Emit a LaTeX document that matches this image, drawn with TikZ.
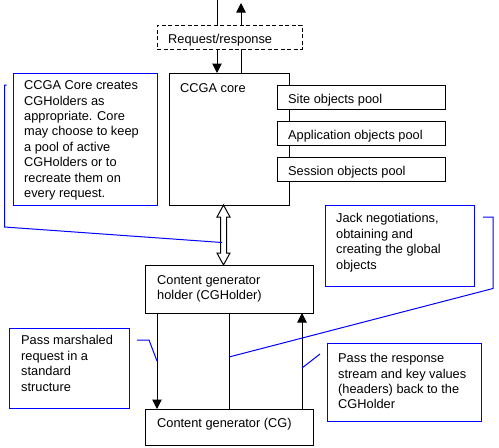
\documentclass[tikz,border=0pt]{standalone}
\usepackage{fontspec}
\setmainfont{Liberation Sans}
\usetikzlibrary{arrows.meta,calc}
\begin{document}
\begin{tikzpicture}[x=1pt,y=-1pt,
  box/.style={draw=black,line width=1pt,fill=white,anchor=north west,inner sep=0pt,outer sep=0pt},
  notebox/.style={draw=blue,line width=1pt,fill=white,anchor=north west,inner sep=0pt,outer sep=0pt},
  txt/.style={anchor=north west,inner sep=0pt,align=left,font=\fontsize{12.8}{15.4}\selectfont},
  conn/.style={line width=1pt,draw=black},
  call/.style={draw=blue,line width=1pt},
  tipend/.style={-{Triangle[width=9.5pt,length=9.5pt]}}
]
\useasboundingbox (0,0) rectangle (499,448);

% boxes
\node[box,dash pattern=on 4pt off 2.5pt,minimum width=145pt,minimum height=24pt] (req) at (157,25) {};
\node[box,minimum width=120pt,minimum height=132pt] (core) at (169,73) {};
\node[box,minimum width=168pt,minimum height=24pt] (site) at (277,85) {};
\node[box,minimum width=168pt,minimum height=24pt] (app) at (277,121) {};
\node[box,minimum width=168pt,minimum height=24pt] (sess) at (277,157) {};
\node[notebox,minimum width=144pt,minimum height=132pt] (note1) at (13,73) {};
\node[box,minimum width=168pt,minimum height=48pt] (holder) at (145,265) {};
\node[box,minimum width=168pt,minimum height=36pt] (cg) at (145,409) {};
\node[notebox,minimum width=149pt,minimum height=81pt] (jack) at (325,205) {};
\node[notebox,minimum width=120pt,minimum height=80pt] (marsh) at (9,328) {};
\node[notebox,minimum width=154pt,minimum height=78pt] (resp) at (327,343) {};

% texts
\node[txt] (reqt) at (168,34.5) {Request/response};
\node[txt] (coret) at (180,83.5) {CCGA core};
\node[txt] (sitet) at (288,94) {Site objects pool};
\node[txt] (appt) at (288,130) {Application objects pool};
\node[txt] (sesst) at (288,166) {Session objects pool};
\node[txt] (note1t) at (24,80.5) {CCGA Core creates\\CGHolders as\\appropriate. Core\\may choose to keep\\a pool of active\\CGHolders or to\\recreate them on\\every request.};
\node[txt] (holdert) at (157,275.3) {Content generator\\holder (CGHolder)};
\node[txt] (cgt) at (157,418.5) {Content generator (CG)};
\node[txt] (jackt) at (336,213.5) {Jack negotiations,\\obtaining and\\creating the global\\objects};
\node[txt] (marsht) at (21,335.5) {Pass marshaled\\request in a\\standard\\structure};
\node[txt] (respt) at (338,353.3) {Pass the response\\stream and key values\\(headers) back to the\\CGHolder};

% request / response connectors
\coordinate (intop) at (217,0);
\coordinate (outtop) at (241,3);
\draw[conn] (intop) -- (intop |- req.north);
\draw[conn,tipend] (outtop |- req.north) -- (outtop);
\draw[conn,tipend] (intop |- req.south) -- (intop |- core.north);
\draw[conn] (outtop |- core.north) -- (outtop |- req.south);

% hollow double arrow core <-> holder
\coordinate (da) at ($(core.south)+(-5.5,0)$);
\coordinate (db) at ($(holder.north)+(-5.5,0)$);
\draw[line width=1pt,fill=white] (da) -- ++(6.5,12) -- ++(-3.5,0) -- ($(db)+(3,-12)$) -- ++(3.5,0) -- (db)
  -- ++(-6.5,-12) -- ++(3.5,0) -- ($(da)+(-3,12)$) -- ++(-3.5,0) -- cycle;

% holder <-> cg
\coordinate (lx) at (157,0);
\coordinate (rx) at (302,0);
\draw[conn,tipend] (holder.south -| lx) -- (cg.north -| lx);
\draw[conn] (holder.south) -- (cg.north);
\draw[conn,tipend] (cg.north -| rx) -- (holder.south -| rx);

% callout lines
\coordinate (c1a) at (6.5,85);
\coordinate (c1b) at (4.5,85);
\coordinate (c1c) at (4.5,227);
\coordinate (c1d) at (222,242.5);
\draw[call] (c1a) -- (c1b) -- (c1c) -- (c1d);
\coordinate (c2a) at (483,217);
\coordinate (c2b) at (493,217);
\coordinate (c2c) at (493,288.5);
\coordinate (c2d) at (229,357);
\draw[call] (c2a) -- (c2b) -- (c2c) -- (c2d);
\coordinate (c3a) at (137,340);
\coordinate (c3b) at (149,340);
\coordinate (c3c) at (157,361);
\draw[call] (c3a) -- (c3b) -- (c3c);
\coordinate (c4a) at (320,354);
\coordinate (c4b) at (302,368);
\draw[call] (c4a) -- (c4b);
\end{tikzpicture}
\end{document}
